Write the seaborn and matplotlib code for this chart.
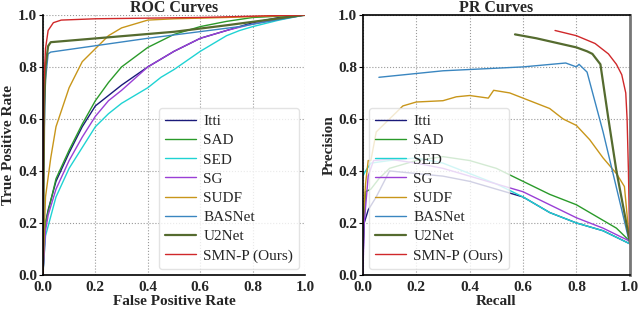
import numpy as np
import pandas as pd
import matplotlib
matplotlib.use("Agg")
import matplotlib.pyplot as plt
import seaborn as sns

names = ["Itti", "SAD", "SED", "SG", "SUDF", "BASNet", "U2Net", "SMN-P (Ours)"]
colors = ["#1a1a7a", "#2a9a2a", "#1fd3d3", "#9a3fd6", "#c8961a", "#3a86c0", "#556b2f", "#d0282a"]
widths = [1.0, 1.0, 1.0, 1.0, 1.0, 1.0, 1.6, 1.0]

# ROC curves: false positive rate, true positive rate
roc_itti_x = [0, 0.005, 0.01, 0.02, 0.05, 0.1, 0.15, 0.2, 0.25, 0.3, 0.4, 0.5, 0.6, 0.7, 0.8, 0.9, 1.0]
roc_itti_y = [0, 0.1, 0.2, 0.25, 0.36, 0.47, 0.57, 0.65, 0.69, 0.73, 0.80, 0.86, 0.91, 0.94, 0.97, 0.99, 1.0]
roc_sad_x = [0, 0.01, 0.05, 0.1, 0.15, 0.2, 0.25, 0.3, 0.4, 0.5, 0.6, 0.7, 0.8, 1.0]
roc_sad_y = [0, 0.2, 0.37, 0.48, 0.58, 0.67, 0.74, 0.80, 0.875, 0.925, 0.955, 0.975, 0.99, 1.0]
roc_sed_x = [0, 0.01, 0.05, 0.1, 0.15, 0.2, 0.25, 0.3, 0.4, 0.45, 0.5, 0.6, 0.7, 0.75, 0.8, 0.9, 1.0]
roc_sed_y = [0, 0.15, 0.3, 0.41, 0.49, 0.57, 0.62, 0.66, 0.72, 0.76, 0.79, 0.86, 0.92, 0.94, 0.955, 0.98, 1.0]
roc_sg_x = [0, 0.005, 0.01, 0.02, 0.05, 0.1, 0.15, 0.2, 0.25, 0.3, 0.4, 0.5, 0.6, 0.7, 0.8, 0.9, 1.0]
roc_sg_y = [0, 0.08, 0.17, 0.23, 0.33, 0.44, 0.53, 0.61, 0.67, 0.71, 0.80, 0.86, 0.91, 0.94, 0.965, 0.985, 1.0]
roc_sudf_x = [0, 0.01, 0.03, 0.05, 0.08, 0.1, 0.13, 0.15, 0.2, 0.25, 0.3, 0.4, 0.5, 0.7, 1.0]
roc_sudf_y = [0, 0.3, 0.45, 0.57, 0.66, 0.72, 0.78, 0.82, 0.87, 0.92, 0.95, 0.98, 0.985, 0.99, 1.0]
roc_basnet_x = [0, 0.005, 0.01, 0.02, 0.03, 0.4, 0.75, 1.0]
roc_basnet_y = [0, 0.55, 0.75, 0.85, 0.857, 0.91, 0.955, 1.0]
roc_u2net_x = [0, 0.005, 0.01, 0.02, 0.03, 0.5, 0.7, 1.0]
roc_u2net_y = [0, 0.65, 0.8, 0.88, 0.895, 0.935, 0.96, 1.0]
roc_smn_x = [0, 0.003, 0.01, 0.02, 0.04, 0.07, 0.2, 0.6, 1.0]
roc_smn_y = [0, 0.72, 0.87, 0.94, 0.97, 0.98, 0.985, 0.99, 1.0]

# PR curves: recall, precision
pr_itti_x = [0.0, 0.005, 0.02, 0.05, 0.1, 0.2, 0.3, 0.4, 0.5, 0.6, 0.7, 0.8, 0.9, 1.0]
pr_itti_y = [0.05, 0.2, 0.25, 0.3, 0.4, 0.39, 0.38, 0.36, 0.33, 0.30, 0.24, 0.20, 0.17, 0.12]
pr_sad_x = [0.0, 0.01, 0.03, 0.06, 0.1, 0.2, 0.3, 0.4, 0.5, 0.6, 0.7, 0.8, 0.9, 0.95, 1.0]
pr_sad_y = [0.1, 0.32, 0.33, 0.37, 0.41, 0.44, 0.455, 0.44, 0.41, 0.36, 0.31, 0.27, 0.21, 0.18, 0.13]
pr_sed_x = [0.0, 0.01, 0.03, 0.1, 0.2, 0.3, 0.4, 0.5, 0.6, 0.7, 0.8, 0.9, 1.0]
pr_sed_y = [0.38, 0.40, 0.43, 0.44, 0.45, 0.43, 0.39, 0.35, 0.30, 0.24, 0.20, 0.17, 0.12]
pr_sg_x = [0.0, 0.005, 0.02, 0.04, 0.1, 0.2, 0.3, 0.4, 0.5, 0.6, 0.7, 0.8, 0.9, 1.0]
pr_sg_y = [0.0, 0.2, 0.38, 0.44, 0.445, 0.43, 0.41, 0.38, 0.35, 0.32, 0.27, 0.22, 0.18, 0.13]
pr_sudf_x = [0.0, 0.01, 0.02, 0.03, 0.05, 0.1, 0.15, 0.2, 0.3, 0.35, 0.4, 0.47, 0.49, 0.55, 0.6, 0.7, 0.75, 0.8, 0.85, 0.9, 0.95, 0.98, 1.0]
pr_sudf_y = [0.2, 0.35, 0.44, 0.44, 0.55, 0.60, 0.65, 0.665, 0.67, 0.685, 0.69, 0.68, 0.71, 0.70, 0.68, 0.64, 0.60, 0.575, 0.52, 0.45, 0.39, 0.34, 0.12]
pr_basnet_x = [0.06, 0.3, 0.6, 0.76, 0.8, 0.81, 0.84, 0.9, 0.97, 1.0]
pr_basnet_y = [0.76, 0.785, 0.80, 0.815, 0.80, 0.81, 0.78, 0.55, 0.25, 0.12]
pr_u2net_x = [0.57, 0.65, 0.8, 0.84, 0.86, 0.89, 0.92, 0.95, 1.0]
pr_u2net_y = [0.925, 0.91, 0.875, 0.86, 0.85, 0.81, 0.6, 0.4, 0.13]
pr_smn_x = [0.72, 0.8, 0.87, 0.92, 0.95, 0.97, 0.985, 0.99, 0.995, 1.0]
pr_smn_y = [0.94, 0.92, 0.89, 0.85, 0.81, 0.77, 0.70, 0.60, 0.40, 0.12]

roc = [(roc_itti_x, roc_itti_y), (roc_sad_x, roc_sad_y), (roc_sed_x, roc_sed_y), (roc_sg_x, roc_sg_y),
       (roc_sudf_x, roc_sudf_y), (roc_basnet_x, roc_basnet_y), (roc_u2net_x, roc_u2net_y), (roc_smn_x, roc_smn_y)]
pr = [(pr_itti_x, pr_itti_y), (pr_sad_x, pr_sad_y), (pr_sed_x, pr_sed_y), (pr_sg_x, pr_sg_y),
      (pr_sudf_x, pr_sudf_y), (pr_basnet_x, pr_basnet_y), (pr_u2net_x, pr_u2net_y), (pr_smn_x, pr_smn_y)]

sns.set_style("whitegrid", {"grid.linestyle": ":", "grid.color": "#999999",
                            "axes.edgecolor": "black"})
plt.rcParams['font.family'] = ['Liberation Serif', 'DejaVu Serif']

fig = plt.figure(figsize=(6.4, 3.1), dpi=100)
ax1 = fig.add_axes([0.067, 0.113, 0.41, 0.839])
ax2 = fig.add_axes([0.567, 0.113, 0.417, 0.839])

for ax, data, title, xl, yl in [(ax1, roc, "ROC Curves", "False Positive Rate", "True Positive Rate"),
                                (ax2, pr, "PR Curves", "Recall", "Precision")]:
    for (x, y), n, c, w in zip(data, names, colors, widths):
        df = pd.DataFrame({"x": x, "y": y})
        sns.lineplot(data=df, x="x", y="y", ax=ax, color=c, lw=w, label=n, sort=False, estimator=None)
    ax.set_xlim(0, 1)
    ax.set_ylim(0, 1)
    ax.set_xticks([0, 0.2, 0.4, 0.6, 0.8, 1.0])
    ax.set_yticks([0, 0.2, 0.4, 0.6, 0.8, 1.0])
    ax.set_xticklabels(["0.0", "0.2", "0.4", "0.6", "0.8", "1.0"], fontsize=11, fontweight="bold")
    ax.set_yticklabels(["0.0", "0.2", "0.4", "0.6", "0.8", "1.0"], fontsize=11, fontweight="bold")
    ax.set_title(title, fontsize=11.5, fontweight="bold", pad=2)
    ax.set_xlabel(xl, fontsize=11, fontweight="bold", labelpad=1)
    ax.set_ylabel(yl, fontsize=11, fontweight="bold", labelpad=2)
    ax.tick_params(axis="both", length=3, pad=1, color="black", left=True, bottom=False)
    for s in ["left", "bottom"]:
        ax.spines[s].set_color("black")
        ax.spines[s].set_linewidth(1.2)
    ax.grid(True, linestyle=":", color="#999999", lw=0.8)

ax1.spines["top"].set_visible(False)
ax1.spines["right"].set_visible(False)
ax2.spines["top"].set_color("black")
ax2.spines["top"].set_linewidth(1.2)
ax2.spines["right"].set_color("#777777")
ax2.spines["right"].set_linewidth(2.0)

leg_kw = dict(fontsize=11, framealpha=0.8, borderpad=0.4, labelspacing=0.36,
              handlelength=2.0, handletextpad=0.5, borderaxespad=0.4, edgecolor="#dddddd")
ax1.legend(loc="lower right", **leg_kw)
ax2.legend(loc="lower left", **leg_kw)

fig.savefig("out.png", dpi=100)
